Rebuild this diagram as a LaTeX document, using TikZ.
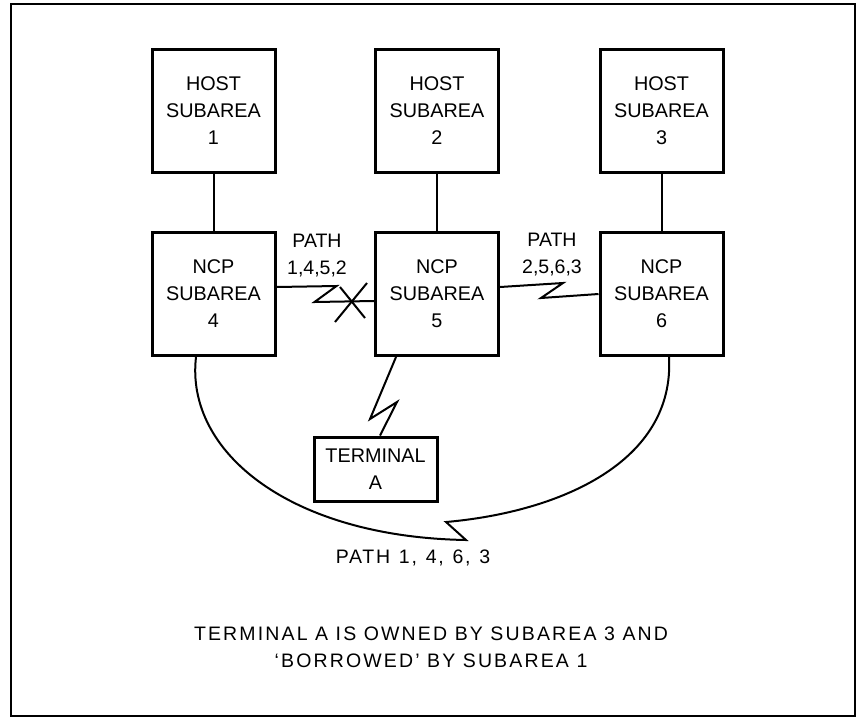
\documentclass[tikz,border=0pt]{standalone}
\usepackage{fontspec}
\setmainfont{Liberation Sans}
\newcommand\pathspaced{\addfontfeature{LetterSpace=9}\spaceskip=0.45em\relax}
\newcommand\notespaced{\addfontfeature{LetterSpace=11}}
\begin{document}
\begin{tikzpicture}[x=0.5pt, y=-0.5pt,
    box/.style={draw, line width=1.5pt, minimum width=61.5pt, minimum height=61.5pt,
        inner sep=0pt, align=center, font=\fontsize{9.9}{13.5}\selectfont},
    link/.style={line width=1pt},
    lbl/.style={align=center, inner sep=0pt, font=\fontsize{9.75}{13.5}\selectfont}]
    \useasboundingbox (0,0) rectangle (861,718);
    \draw[line width=1pt] (11,4) rectangle (855,716);

    % hosts and NCPs
    \node[box] (host1) at (213.5,111) {HOST\\SUBAREA\\1};
    \node[box] (host2) at (437,111) {HOST\\SUBAREA\\2};
    \node[box] (host3) at (661.5,111) {HOST\\SUBAREA\\3};
    \node[box] (ncp4) at (213.5,294) {NCP\\SUBAREA\\4};
    \node[box] (ncp5) at (437,294) {NCP\\SUBAREA\\5};
    \node[box] (ncp6) at (661.5,294) {NCP\\SUBAREA\\6};
    \node[box, minimum height=32pt] (term) at (375.5,469) {TERMINAL\\A};

    \draw[link] (host1) -- (ncp4);
    \draw[link] (host2) -- (ncp5);
    \draw[link] (host3) -- (ncp6);

    % paths
    \draw[link] ([yshift=3.5pt]ncp4.east) -- ++(60,-1) -- ++(-22,16) -- ([yshift=-3.5pt]ncp5.west);
    \coordinate (cut) at (351,302);
    \draw[link] ([shift={(-16,20)}]cut) -- ([shift={(16,-19)}]cut);
    \draw[link] ([shift={(-11,-15)}]cut) -- ([shift={(14,16)}]cut);
    \draw[link] ([yshift=3.5pt]ncp5.east) -- ++(63,-4) -- ++(-22,15) -- (ncp6.west);
    \draw[link] ([xshift=-20.5pt]ncp5.south) -- ++(-26,62) -- ++(27,-17) -- ([xshift=2.25pt]term.north);
    \draw[link] ([xshift=-8.75pt]ncp4.south) .. controls +(-11,95) and +(-176,-3) .. ++(270,183)
        -- ++(-20,-18) .. controls +(114,-10) and +(6,105) .. ([xshift=3.75pt]ncp6.south);

    \node[lbl] (p1452) at (317,256) {PATH\\1,4,5,2};
    \node[lbl] (p2563) at (552,255) {PATH\\2,5,6,3};
    \node[lbl] (p1463) at (413,558) {\pathspaced PATH 1, 4, 6, 3};
    \node[lbl] (note) at (431,647)
        {\notespaced TERMINAL A IS OWNED BY SUBAREA 3 AND\\\notespaced `BORROWED' BY SUBAREA 1};
\end{tikzpicture}
\end{document}
